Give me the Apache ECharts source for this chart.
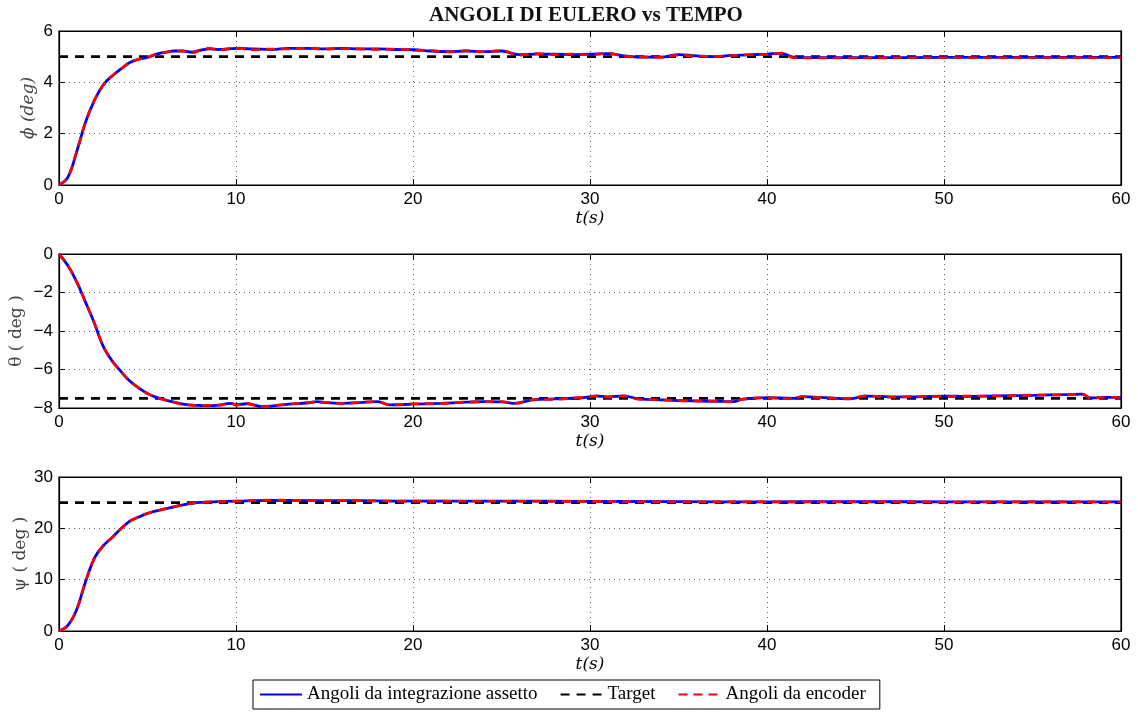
<!DOCTYPE html>
<html>
<head>
<meta charset="utf-8">
<script src="https://cdn.jsdelivr.net/npm/echarts@6/dist/echarts.min.js"></script>
<style>
html, body { margin: 0; padding: 0; background: #fff; }
#chart { width: 1138px; height: 712px; }
</style>
</head>
<body>
<div id="chart"></div>
<script>
// tempo (s) e angoli
var phiT = [0, 0.5, 1, 1.5, 2, 2.5, 3, 3.5, 4, 4.5, 5, 5.5, 6, 6.5, 7, 7.5, 8, 8.5, 9, 10, 11, 12, 13, 14, 15, 16, 17, 18, 19, 20, 21, 22, 23, 24, 25, 26, 27, 28, 29, 30, 31, 32, 33, 34, 35, 36, 37, 38, 39, 40, 40.8, 41.5, 42, 45, 50, 55, 60];
var phiInt = [0, 0.3, 1.3, 2.45, 3.3, 3.9, 4.25, 4.52, 4.77, 4.9, 4.97, 5.1, 5.17, 5.22, 5.22, 5.18, 5.25, 5.3, 5.28, 5.32, 5.3, 5.28, 5.32, 5.32, 5.3, 5.32, 5.3, 5.3, 5.28, 5.27, 5.22, 5.2, 5.22, 5.2, 5.22, 5.08, 5.1, 5.1, 5.08, 5.1, 5.12, 5.03, 4.98, 4.98, 5.08, 5.03, 5.0, 5.05, 5.07, 5.1, 5.13, 4.98, 4.96, 4.96, 4.97, 4.97, 4.97];
var phiEnc = [0, 0.3, 1.3, 2.45, 3.3, 3.9, 4.25, 4.52, 4.77, 4.9, 4.97, 5.1, 5.17, 5.22, 5.22, 5.15, 5.25, 5.33, 5.26, 5.33, 5.27, 5.3, 5.3, 5.33, 5.3, 5.31, 5.3, 5.28, 5.3, 5.26, 5.24, 5.18, 5.23, 5.19, 5.24, 5.06, 5.12, 5.08, 5.1, 5.07, 5.13, 5.01, 4.99, 4.97, 5.06, 5.02, 5.01, 5.04, 5.08, 5.08, 5.14, 4.96, 4.95, 4.95, 4.96, 4.96, 4.96];
var phiTarget = 5;

var thetaT = [0, 0.5, 1, 1.5, 2, 2.5, 3, 3.5, 4, 4.5, 5, 5.5, 6, 6.5, 7, 7.5, 8, 8.5, 9, 9.7, 10, 10.6, 11.5, 12, 13, 14, 14.6, 15, 16, 17, 18, 18.7, 20, 21.5, 23, 24, 25, 25.7, 26.8, 28, 29.4, 30.4, 31, 31.9, 32.8, 34, 35.3, 37, 38.1, 38.6, 40, 41.5, 42, 43, 44.7, 45.6, 47, 48.5, 50, 51.3, 53, 55, 57, 57.8, 58.3, 59.2, 60];
var thetaInt = [0, -0.6, -1.45, -2.5, -3.6, -4.8, -5.55, -6.1, -6.6, -6.95, -7.25, -7.45, -7.58, -7.7, -7.8, -7.85, -7.87, -7.88, -7.85, -7.76, -7.83, -7.78, -7.93, -7.9, -7.8, -7.74, -7.67, -7.72, -7.76, -7.72, -7.67, -7.84, -7.8, -7.76, -7.7, -7.67, -7.68, -7.76, -7.58, -7.53, -7.48, -7.38, -7.42, -7.38, -7.53, -7.58, -7.62, -7.65, -7.67, -7.55, -7.46, -7.5, -7.41, -7.45, -7.52, -7.38, -7.42, -7.42, -7.38, -7.4, -7.37, -7.34, -7.3, -7.28, -7.48, -7.45, -7.45];
var thetaEnc = [0, -0.6, -1.45, -2.5, -3.6, -4.8, -5.55, -6.1, -6.6, -6.95, -7.25, -7.45, -7.58, -7.7, -7.82, -7.85, -7.88, -7.86, -7.86, -7.74, -7.85, -7.76, -7.95, -7.88, -7.8, -7.72, -7.68, -7.7, -7.77, -7.7, -7.66, -7.85, -7.78, -7.77, -7.69, -7.68, -7.66, -7.77, -7.56, -7.55, -7.46, -7.37, -7.43, -7.37, -7.55, -7.57, -7.63, -7.64, -7.68, -7.54, -7.47, -7.52, -7.4, -7.46, -7.5, -7.37, -7.44, -7.4, -7.4, -7.38, -7.38, -7.33, -7.32, -7.27, -7.5, -7.44, -7.46];
var thetaTarget = -7.5;

var psiT = [0, 0.5, 1, 1.5, 2, 2.5, 3, 3.5, 4, 4.5, 5, 5.5, 6, 6.5, 7, 7.5, 8, 9, 10, 12, 14, 16, 18, 20, 25, 30, 35, 40, 45, 50, 55, 60];
var psiInt = [0, 1.1, 4.2, 9.6, 14.2, 16.6, 18.2, 19.9, 21.4, 22.2, 22.9, 23.4, 23.8, 24.2, 24.55, 24.85, 25.05, 25.2, 25.3, 25.45, 25.4, 25.4, 25.35, 25.3, 25.3, 25.25, 25.2, 25.15, 25.2, 25.15, 25.15, 25.15];
var psiEnc = [0, 1.1, 4.2, 9.6, 14.2, 16.6, 18.2, 19.9, 21.4, 22.2, 22.9, 23.4, 23.8, 24.2, 24.55, 24.85, 25.05, 25.2, 25.3, 25.5, 25.4, 25.42, 25.33, 25.3, 25.28, 25.25, 25.18, 25.15, 25.18, 25.14, 25.15, 25.14];
var psiTarget = 25;

var yNames = ['\u03D5 (deg)', '\u03B8 ( deg )', '\u03C8 ( deg )'];
var yMin = [0, -8, 0];
var yMax = [6, 0, 30];
var yStep = [2, 2, 10];
var xMax = 60, xStep = 10;

var legendNames = ['Angoli da integrazione assetto', 'Target', 'Angoli da encoder'];

function pairs(t, v) {
  return t.map(function (x, i) { return [x, v[i]]; });
}

var tops = [31, 254, 477];
var nameGaps = [22, 34, 30];
var grids = [], xAxes = [], yAxes = [], series = [];
var sets = [
  [phiT, phiInt, phiEnc, phiTarget],
  [thetaT, thetaInt, thetaEnc, thetaTarget],
  [psiT, psiInt, psiEnc, psiTarget]
];

var tickFont = { color: '#000', fontSize: 17, fontFamily: 'Liberation Sans, Arial, sans-serif' };
var gridLine = { show: true, lineStyle: { color: '#666', type: [1, 4], width: 1 } };

for (var k = 0; k < 3; k++) {
  grids.push({ left: 59, width: 1062, top: tops[k], height: 154, show: true, borderColor: '#000', borderWidth: 1.2,
    backgroundColor: '#fff', containLabel: false, outerBoundsMode: 'none' });
  // asse x in basso
  xAxes.push({
    gridIndex: k, type: 'value', min: 0, max: xMax, interval: xStep,
    name: 't(s)', nameLocation: 'middle', nameGap: 25, nameMoveOverlap: false,
    nameTextStyle: { color: '#000', fontSize: 17, fontStyle: 'italic', fontFamily: 'DejaVu Serif, serif' },
    axisLine: { onZero: false, lineStyle: { color: '#000', width: 1.2 } },
    axisTick: { inside: true, length: 6, lineStyle: { color: '#000' } },
    axisLabel: Object.assign({ margin: 6 }, tickFont),
    splitLine: gridLine
  });
  // asse x in alto (solo tacche)
  xAxes.push({
    gridIndex: k, type: 'value', position: 'top', min: 0, max: xMax, interval: xStep,
    axisLine: { onZero: false, lineStyle: { color: '#000', width: 1.2 } },
    axisTick: { inside: true, length: 6, lineStyle: { color: '#000' } },
    axisLabel: { show: false }, splitLine: { show: false }
  });
  yAxes.push({
    gridIndex: k, type: 'value', min: yMin[k], max: yMax[k], interval: yStep[k],
    name: yNames[k], nameLocation: 'middle', nameGap: nameGaps[k], nameRotate: 90, nameMoveOverlap: false,
    nameTextStyle: { color: '#444', fontSize: 17, fontStyle: k === 0 ? 'italic' : 'normal', fontFamily: 'DejaVu Serif, serif' },
    axisLine: { onZero: false, lineStyle: { color: '#000', width: 1.2 } },
    axisTick: { inside: true, length: 6, lineStyle: { color: '#000' } },
    axisLabel: Object.assign({ margin: 6, formatter: function (v) { return String(v).replace('-', '\u2212'); } }, tickFont),
    splitLine: gridLine
  });
  yAxes.push({
    gridIndex: k, type: 'value', position: 'right', min: yMin[k], max: yMax[k], interval: yStep[k],
    axisLine: { onZero: false, lineStyle: { color: '#000', width: 1.2 } },
    axisTick: { inside: true, length: 6, lineStyle: { color: '#000' } },
    axisLabel: { show: false }, splitLine: { show: false }
  });

  var s = sets[k];
  series.push({
    name: legendNames[0], type: 'line', xAxisIndex: 2 * k, yAxisIndex: 2 * k,
    data: pairs(s[0], s[1]), showSymbol: false, symbol: 'none', smooth: 0.4,
    lineStyle: { color: '#0000ff', width: 2.8 }, itemStyle: { color: '#0000ff' }, z: 2
  });
  series.push({
    name: legendNames[1], type: 'line', xAxisIndex: 2 * k, yAxisIndex: 2 * k,
    data: [[0, s[3]], [xMax, s[3]]], showSymbol: false, symbol: 'none',
    lineStyle: { color: '#000', width: 2.6, type: [9, 7] }, itemStyle: { color: '#000' }, z: 1
  });
  series.push({
    name: legendNames[2], type: 'line', xAxisIndex: 2 * k, yAxisIndex: 2 * k,
    data: pairs(s[0], s[2]), showSymbol: false, symbol: 'none', smooth: 0.4,
    lineStyle: { color: '#ff0000', width: 2.6, type: [9, 6] }, itemStyle: { color: '#ff0000' }, z: 3
  });
}

var chart = echarts.init(document.getElementById('chart'), null, { renderer: 'canvas' });
chart.setOption({
  animation: false,
  backgroundColor: '#fff',
  title: {
    text: 'ANGOLI DI EULERO vs TEMPO', left: 424, top: 0,
    textStyle: { fontSize: 21, fontWeight: 'bold', color: '#111', fontFamily: 'Liberation Serif, serif' }
  },
  legend: {
    data: legendNames, left: 253, top: 680, orient: 'horizontal',
    borderColor: '#000', borderWidth: 1, padding: [5, 14, 5, 6], itemGap: 22,
    itemWidth: 42, itemHeight: 16,
    itemStyle: { opacity: 0 },
    textStyle: { fontSize: 19, color: '#000', fontFamily: 'Liberation Serif, serif' }
  },
  grid: grids,
  xAxis: xAxes,
  yAxis: yAxes,
  series: series
});
</script>
</body>
</html>
